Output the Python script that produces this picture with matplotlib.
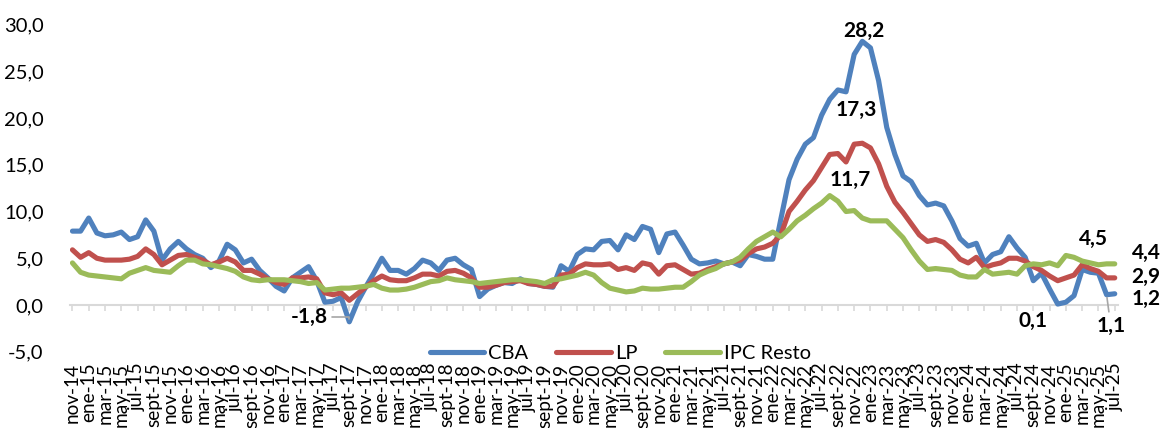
import matplotlib
matplotlib.use("Agg")
import matplotlib.pyplot as plt

plt.rcParams['font.family'] = ['Lato', 'DejaVu Sans']

month_names = ['ene', 'feb', 'mar', 'abr', 'may', 'jun', 'jul', 'ago', 'sept', 'oct', 'nov', 'dic']
start_month = 10  # nov (0-based index)
start_year = 2014

cba = [7.9, 7.9, 9.3, 7.7, 7.4, 7.5, 7.8, 7.0, 7.3, 9.1, 7.9, 4.8, 6.0, 6.8,
       6.0, 5.4, 5.0, 4.0, 4.7, 6.5, 5.9, 4.5, 4.9, 3.7, 2.9, 2.0,
       1.5, 2.9, 3.5, 4.1, 2.6, 0.3, 0.4, 0.8, -1.8, 0.3, 1.9, 3.4,
       5.0, 3.7, 3.7, 3.3, 3.9, 4.8, 4.5, 3.7, 4.8, 5.0, 4.3, 3.8,
       0.9, 1.7, 2.1, 2.4, 2.3, 2.8, 2.3, 2.2, 2.0, 1.9, 4.2, 3.6,
       5.4, 6.0, 5.9, 6.8, 6.9, 5.9, 7.5, 7.0, 8.4, 8.1, 5.6, 7.6,
       7.8, 6.4, 4.9, 4.4, 4.5, 4.7, 4.4, 4.6, 4.2, 5.4, 5.2, 4.9,
       4.9, 9.2, 13.4, 15.6, 17.2, 17.9, 20.3, 22.0, 23.0, 22.8, 26.8, 28.2,
       27.5, 24.0, 19.0, 16.1, 13.8, 13.2, 11.7, 10.7, 10.9, 10.6, 9.0, 7.1,
       6.3, 6.6, 4.5, 5.4, 5.7, 7.3, 6.1, 5.1, 2.6, 3.4, 1.7, 0.1,
       0.3, 1.0, 3.8, 3.5, 3.4, 1.1, 1.2]

lp = [5.9, 5.1, 5.6, 5.0, 4.8, 4.8, 4.8, 4.9, 5.2, 6.0, 5.4, 4.3, 4.8, 5.3,
      5.4, 5.1, 4.8, 4.3, 4.6, 5.0, 4.6, 3.7, 3.7, 3.3, 2.8, 2.4,
      2.2, 2.9, 2.9, 3.0, 2.8, 1.3, 1.1, 1.3, 0.5, 1.2, 1.9, 2.6,
      3.1, 2.7, 2.6, 2.6, 2.9, 3.3, 3.3, 3.1, 3.6, 3.7, 3.4, 2.9,
      1.9, 1.9, 2.1, 2.4, 2.5, 2.6, 2.3, 2.2, 2.0, 2.0, 3.2, 3.3,
      4.0, 4.4, 4.3, 4.3, 4.4, 3.8, 4.0, 3.7, 4.5, 4.3, 3.3, 4.2,
      4.3, 3.8, 3.3, 3.4, 3.8, 4.1, 4.4, 4.6, 4.8, 5.5, 6.0, 6.2,
      6.6, 7.5, 10.0, 11.1, 12.3, 13.3, 14.7, 16.1, 16.2, 15.3, 17.2, 17.3,
      16.8, 15.1, 12.7, 11.0, 9.9, 8.7, 7.5, 6.8, 7.0, 6.7, 5.9, 4.9,
      4.5, 5.1, 4.0, 4.3, 4.5, 5.0, 5.0, 4.7, 4.1, 3.7, 3.1, 2.6,
      2.9, 3.2, 4.3, 3.9, 3.6, 2.9, 2.9]

ipc_resto = [4.5, 3.5, 3.2, 3.1, 3.0, 2.9, 2.8, 3.4, 3.7, 4.0, 3.7, 3.6, 3.5, 4.2,
             4.8, 4.8, 4.4, 4.3, 4.1, 3.9, 3.6, 3.0, 2.7, 2.6, 2.7, 2.7,
             2.7, 2.6, 2.5, 2.3, 2.4, 1.6, 1.7, 1.8, 1.8, 1.9, 2.0, 2.2,
             1.8, 1.6, 1.6, 1.7, 1.9, 2.2, 2.5, 2.6, 2.9, 2.7, 2.6, 2.5,
             2.3, 2.4, 2.5, 2.6, 2.7, 2.7, 2.6, 2.5, 2.3, 2.7, 2.8, 3.0,
             3.2, 3.5, 3.2, 2.4, 1.8, 1.6, 1.4, 1.5, 1.8, 1.7, 1.7, 1.8,
             1.9, 1.9, 2.5, 3.2, 3.6, 3.9, 4.4, 4.6, 5.1, 6.0, 6.8, 7.3,
             7.8, 7.3, 8.1, 9.0, 9.6, 10.3, 10.9, 11.7, 11.1, 10.0, 10.1, 9.3,
             9.0, 9.0, 9.0, 8.1, 7.2, 5.9, 4.7, 3.8, 3.9, 3.8, 3.7, 3.2,
             3.0, 3.0, 3.8, 3.3, 3.4, 3.5, 3.3, 4.2, 4.4, 4.3, 4.5, 4.2,
             5.3, 5.1, 4.7, 4.5, 4.3, 4.4, 4.4]

series_names = ['CBA', 'LP', 'IPC Resto']
series_colors = ['#4F81BD', '#C0504D', '#9BBB59']

# month labels
n = len(cba)
month_labels = []
for k in range(n):
    m = (start_month + k) % 12
    y = start_year + (start_month + k) // 12
    month_labels.append(f"{month_names[m]}-{y % 100:02d}")
x = list(range(n))


def fmt(v):
    return f"{v:.1f}".replace('.', ',')


W, H = 1162, 428
fig = plt.figure(figsize=(W / 100, H / 100), dpi=100)
left_px, right_px, top_px, bottom_px = 70, 1118, 24.5, 351.75
ax = fig.add_axes([left_px / W, (H - bottom_px) / H,
                   (right_px - left_px) / W, (bottom_px - top_px) / H])

for vals, name, col in zip([cba, lp, ipc_resto], series_names, series_colors):
    ax.plot(x, vals, color=col, lw=3.7, label=name,
            solid_joinstyle='round', solid_capstyle='round')

ax.set_xlim(-0.3, 128.4)
ax.set_ylim(-5, 30)
for s in ax.spines.values():
    s.set_visible(False)

ax.set_yticks(range(-5, 31, 5))
ax.set_yticklabels([fmt(v) for v in range(-5, 31, 5)], fontsize=14.5)
ax.tick_params(axis='y', length=0, pad=19)

tick_pos = x[::2]
ax.set_xticks(tick_pos)
ax.set_xticklabels(month_labels[::2], rotation=90, fontsize=13.7)
ax.tick_params(axis='x', length=0, pad=8)

# axis line at zero with tick marks
sec = ax.secondary_xaxis(5 / 35)
sec.set_xticks(tick_pos)
sec.tick_params(axis='x', direction='out', length=4.5, width=1.2,
                color='#D9D9D9', labelbottom=False)
sec.spines['bottom'].set_color('#D9D9D9')
sec.spines['bottom'].set_linewidth(1.5)

leg = ax.legend(loc='center', bbox_to_anchor=(0.525, -0.005), ncol=3,
                frameon=False, fontsize=14.5, handlelength=2.7,
                handletextpad=0.2, columnspacing=1.4, borderpad=0)

lab_kw = dict(textcoords='offset points', fontsize=15, fontweight='bold',
              ha='center', va='center', color='black')
lead = dict(arrowstyle='-', color='#A6A6A6', lw=1.2, shrinkA=1, shrinkB=2)
lead_angle = dict(arrowstyle='-', color='#A6A6A6', lw=1.2, shrinkA=1, shrinkB=2,
                  connectionstyle='angle,angleA=0,angleB=90,rad=0')

i_max = cba.index(max(cba))
ax.annotate(fmt(cba[i_max]), (i_max, cba[i_max]), xytext=(1.5, 7.5), **lab_kw)
ax.annotate(fmt(lp[i_max]), (i_max, lp[i_max]), xytext=(-4.5, 24), **lab_kw)
i_g = ipc_resto.index(max(ipc_resto))
ax.annotate(fmt(ipc_resto[i_g]), (i_g, ipc_resto[i_g]), xytext=(15, 11), **lab_kw)
i_min = cba.index(min(cba))
ax.annotate(fmt(cba[i_min]), (i_min, cba[i_min]), xytext=(-29, 3.5),
            arrowprops=lead_angle, **lab_kw)
i_b0 = 121
ax.annotate(fmt(cba[i_b0]), (i_b0, cba[i_b0]), xytext=(-18, -12), **lab_kw)
ax.annotate(fmt(cba[127]), (127, cba[127]), xytext=(3, -22.5),
            arrowprops=lead, **lab_kw)
ax.annotate(fmt(cba[-1]), (n - 1, cba[-1]), xytext=(22.5, -3.6), **lab_kw)
ax.annotate(fmt(lp[-1]), (n - 1, lp[-1]), xytext=(22.5, 0.5), **lab_kw)
ax.annotate(fmt(ipc_resto[-1]), (n - 1, ipc_resto[-1]), xytext=(22.5, 8), **lab_kw)
ax.annotate(fmt(ipc_resto[125]), (125, ipc_resto[125]), xytext=(2, 17), **lab_kw)

fig.savefig('out.png', dpi=100)
